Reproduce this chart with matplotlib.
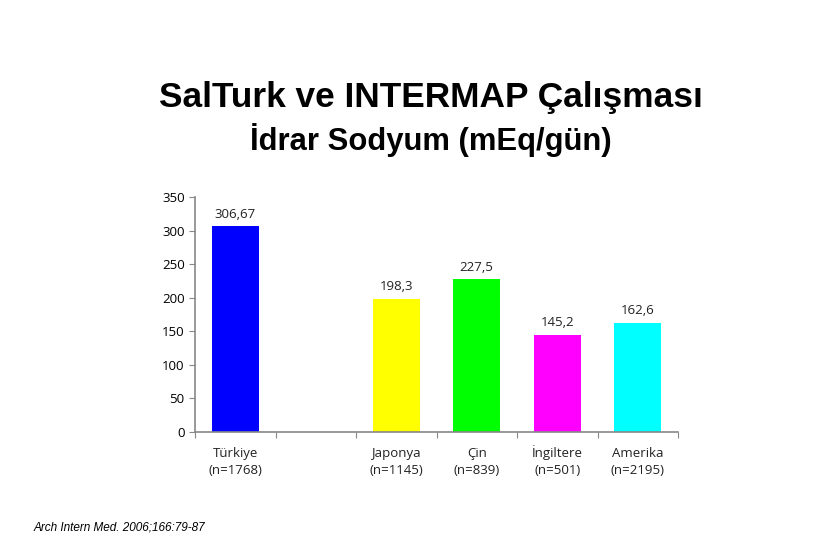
import matplotlib
matplotlib.use("Agg")
import matplotlib.pyplot as plt
import matplotlib.transforms as mtransforms
import numpy as np

names = ["Türkiye", "", "Japonya", "Çin", "İngiltere", "Amerika"]
n_labels = ["(n=1768)", "", "(n=1145)", "(n=839)", "(n=501)", "(n=2195)"]
values = [306.67, np.nan, 198.3, 227.5, 145.2, 162.6]
value_labels = ["306,67", "", "198,3", "227,5", "145,2", "162,6"]
colors = ["#0000FF", "#FFFFFF", "#FFFF00", "#00FF00", "#FF00FF", "#00FFFF"]
yticks = [0, 50, 100, 150, 200, 250, 300, 350]

fig = plt.figure(figsize=(8.34, 5.58), dpi=100)
ax = fig.add_axes([195/834, 1-432/558, (678-195)/834, (432-197)/558])

x = np.arange(len(names))
ax.bar(x, np.nan_to_num(values), width=0.58, color=colors)
for xi, v, lab in zip(x, values, value_labels):
    if lab:
        ax.text(xi, v + 8, lab, ha="center", va="bottom", fontsize=9.5, family="Open Sans", color="#222222")

ax.set_xlim(-0.5, len(names) - 0.5)
ax.set_ylim(0, 350)
ax.set_yticks(yticks)
ax.set_yticklabels([str(t) for t in yticks], family="Open Sans", fontsize=9.5)
ax.set_xticks(np.arange(len(names) + 1) - 0.5)
ax.set_xticklabels([])
ax.tick_params(axis="x", length=4, color="#888888", direction="out")
ax.tick_params(axis="y", length=4, color="#888888")
for s in ["top", "right"]:
    ax.spines[s].set_visible(False)
for s in ["left", "bottom"]:
    ax.spines[s].set_color("#888888")
    ax.spines[s].set_linewidth(1.2)

trans = mtransforms.blended_transform_factory(ax.transData, fig.transFigure)
for xi, nm, nl in zip(x, names, n_labels):
    if nm:
        ax.text(xi, 1-457/558, nm, ha="center", va="baseline", fontsize=9.5,
                family="Open Sans", color="#222222", transform=trans)
        ax.text(xi, 1-474/558, nl, ha="center", va="baseline", fontsize=9.5,
                family="Open Sans", color="#222222", transform=trans)

fig.text(431/834, 1-98/558, "SalTurk ve INTERMAP Çalışması", ha="center", va="center",
         fontsize=25.4, family="Liberation Sans", weight="bold")
fig.text(431/834, 1-140/558, "İdrar Sodyum (mEq/gün)", ha="center", va="center",
         fontsize=22.3, family="Liberation Sans", weight="bold")
fig.text(34/834, 1-527/558, "Arch Intern Med. 2006;166:79-87", ha="left", va="center",
         fontsize=8.5, family="Liberation Sans", style="italic")

fig.savefig("out.png", dpi=100, facecolor="white")
